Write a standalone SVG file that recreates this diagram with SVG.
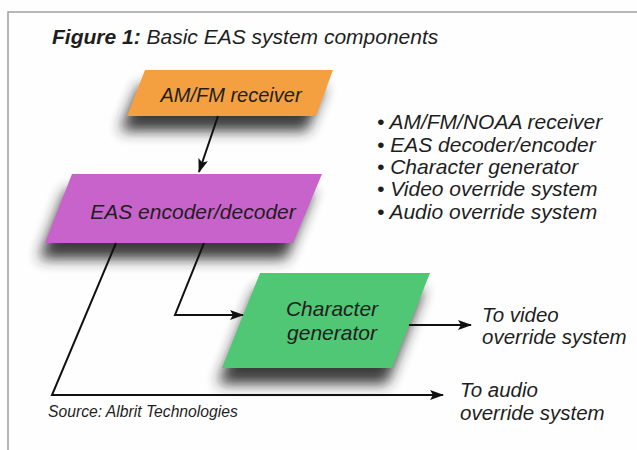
<svg xmlns="http://www.w3.org/2000/svg" width="637" height="450" viewBox="0 0 637 450">
<style>
  text { font-family: "Liberation Sans", Arial, sans-serif; font-style: italic; fill: #1e1e1e; }
  .title { font-size: 21px; }
  .title .b { font-weight: bold; }
  .node { font-size: 20px; text-anchor: middle; }
  .lbl { font-size: 20.5px; }
  .bul { font-size: 21px; }
  .src { font-size: 15.7px; }
  .shadow { fill: #262626; opacity: 0.9; filter: url(#blur); }
  .conn { fill: none; stroke: #111; stroke-width: 2; marker-end: url(#arrow); }
  .frame { fill: none; stroke: #a0a0a0; stroke-width: 1.5; }
</style>
<defs>
  <filter id="blur" x="-30%" y="-50%" width="160%" height="200%">
    <feGaussianBlur stdDeviation="7"/>
  </filter>
  <marker id="arrow" markerUnits="userSpaceOnUse" markerWidth="14" markerHeight="10" refX="13" refY="5" orient="auto">
    <path d="M0,0 L14,5 L0,10 L3,5 z" fill="#111"/>
  </marker>
</defs>
<rect width="637" height="450" fill="#fefefe"/>
<path class="frame" d="M8,450 L8,12 L637,12"/>

<text class="title" x="52" y="44"><tspan class="b">Figure 1:</tspan> Basic EAS system components</text>

<g id="am-fm-receiver">
  <polygon class="shadow" points="139,86 325,86 307,131 120,131"/>
  <polygon points="145,70 333,70 316,116 127,116" fill="#F4A041"/>
  <text class="node" x="231" y="102">AM/FM receiver</text>
</g>

<g id="eas-encoder-decoder">
  <polygon class="shadow" points="66,190 314,190 286,259 39,259"/>
  <polygon points="72,174 322,174 293,243 45,243" fill="#C963CC"/>
  <text class="node" x="193" y="219" style="font-size:21px">EAS encoder/decoder</text>
</g>

<g id="character-generator">
  <polygon class="shadow" points="256,289 424,289 387,384 218,384"/>
  <polygon points="260,273 430,273 392,368 222,368" fill="#50C774"/>
  <text class="node" x="332" y="316" style="font-size:21px">Character</text>
  <text class="node" x="332" y="340" style="font-size:21px">generator</text>
</g>

<g id="connectors">
  <path class="conn" d="M218,116 L199,172"/>
  <path class="conn" d="M204,243 L175,315 L243,315"/>
  <path class="conn" d="M116,243 L52,395 L443,395"/>
  <path class="conn" d="M409,325 L471,325"/>
</g>

<g id="labels">
  <text class="lbl" x="482" y="322">To video</text>
  <text class="lbl" x="482" y="344">override system</text>
  <text class="lbl" x="460" y="397">To audio</text>
  <text class="lbl" x="460" y="420">override system</text>
  <text class="src" x="48" y="417">Source: Albrit Technologies</text>
</g>

<g id="component-list">
  <text class="bul" x="377" y="129">• AM/FM/NOAA receiver</text>
  <text class="bul" x="377" y="152">• EAS decoder/encoder</text>
  <text class="bul" x="377" y="174">• Character generator</text>
  <text class="bul" x="377" y="196">• Video override system</text>
  <text class="bul" x="377" y="219">• Audio override system</text>
</g>
</svg>
